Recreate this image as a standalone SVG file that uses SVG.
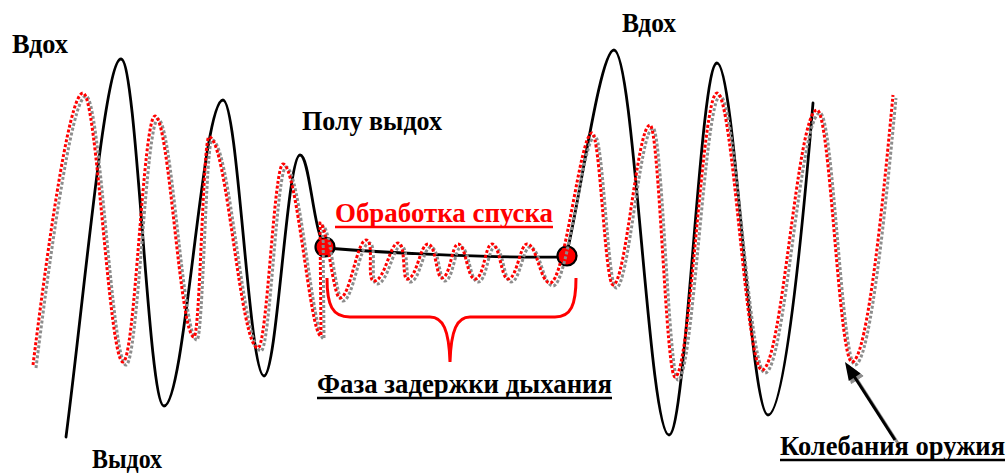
<svg xmlns="http://www.w3.org/2000/svg" width="1008" height="473" viewBox="0 0 1008 473">
<style>
text{font-family:"Liberation Serif","Times New Roman",serif;font-weight:700;font-size:27px}
.blk{fill:none;stroke:#000;stroke-width:2.8;stroke-linecap:round;stroke-linejoin:round}
.dotr{fill:none;stroke:#ff0000;stroke-width:3;stroke-dasharray:3 2}
.dotg{fill:none;stroke:#8c8c8c;stroke-width:3;stroke-dasharray:3 2}
.ul{stroke-width:2.5}
</style>
<defs>
<path id="wobble" d="M33 365 C45 270 68 93 83 93 C97 93 109 362 123 362 C135 362 143 116 155 116 C169 116 180 337 194 337 C200 337 203 137 209 137 C227 137 240 348 258 348 C267 348 274 164 283 164 C297 164 310 336 321 336 L320 223 C327 223 333 298 340 298 C350 298 357 240 366 240 C375 240 366 281 374 281 C385 281 390 243 398 243 C406 243 402 279 407 279 C417 279 420 244 428 244 C436 244 436 278 442 278 C450 278 452 244 458 244 C466 244 467 279 475 279 C484 279 485 244 492 244 C500 244 501 279 508 279 C517 279 520 244 527 244 C537 244 540 283 550 283 C565 283 580 133 592 133 C600 133 605 285 613 285 C626 285 637 125 650 125 C659 125 666 377 675 377 C690 377 702 93 717 93 C733 93 746 370 762 370 C782 370 797 110 817 110 C830 110 839 362 852 362 C868 362 885 180 893 95"/>
</defs>
<g id="breath-curve">
<path class="blk" d="M66 437 C85 290 105 59 121 59 C137 59 148 406 164 406 C185 406 202 100 223 100 C238 100 249 376 264 376 C277 376 287 155 300 155 C310 155 313 235 326 248 C400 254 500 258 566 257 C580 200 600 50 614 50 C634 50 649 435 669 435 C686 435 700 63 717 63 C735 63 750 415 768 415 C786 415 805 200 813 103"/>
</g>
<g id="trigger-points">
<circle cx="325" cy="247" r="9.5" fill="#ff0000" stroke="#000" stroke-width="2.2"/>
<circle cx="567" cy="256" r="9.5" fill="#ff0000" stroke="#000" stroke-width="2.2"/>
</g>
<g id="weapon-wobble">
<use href="#wobble" class="dotg" transform="translate(3,3)"/>
<use href="#wobble" class="dotr"/>
</g>
<g id="brace">
<path d="M327 278 C327 305 332 317 350 317 L430 317 C443 317 449 330 450 362 C451 330 457 317 470 317 L555 317 C571 317 576 305 576 278" fill="none" stroke="#ff0000" stroke-width="3"/>
</g>
<g id="connectors">
<g transform="translate(2.5,2.5)" fill="#8c8c8c" stroke="#8c8c8c">
<line x1="895" y1="440" x2="852" y2="373" stroke-width="3"/>
<polygon points="845,362 860.6,373.4 848.8,381"/>
</g>
<line x1="895" y1="440" x2="852" y2="373" stroke="#000" stroke-width="3"/>
<polygon points="845,362 860.6,373.4 848.8,381" fill="#000"/>
</g>
<g id="label-vdoh-left"><text x="12" y="53" textLength="56" lengthAdjust="spacingAndGlyphs">Вдох</text></g>
<g id="label-vdoh-right"><text x="622" y="32" textLength="54" lengthAdjust="spacingAndGlyphs">Вдох</text></g>
<g id="label-polu"><text x="302" y="130" textLength="140" lengthAdjust="spacingAndGlyphs">Полу выдох</text></g>
<g id="label-vydoh"><text x="92" y="468" textLength="70" lengthAdjust="spacingAndGlyphs">Выдох</text></g>
<g id="label-trigger">
<text fill="#ff0000" x="335" y="222" textLength="218" lengthAdjust="spacingAndGlyphs">Обработка спуска</text>
<line class="ul" x1="335" y1="227" x2="553" y2="227" stroke="#ff0000"/>
</g>
<g id="label-hold">
<text x="317" y="393" textLength="295" lengthAdjust="spacingAndGlyphs">Фаза задержки дыхания</text>
<line class="ul" x1="317" y1="398" x2="612" y2="398" stroke="#000"/>
</g>
<g id="label-wobble">
<text x="780" y="455" textLength="225" lengthAdjust="spacingAndGlyphs">Колебания оружия</text>
<line class="ul" x1="780" y1="460" x2="1005" y2="460" stroke="#000"/>
</g>
</svg>
